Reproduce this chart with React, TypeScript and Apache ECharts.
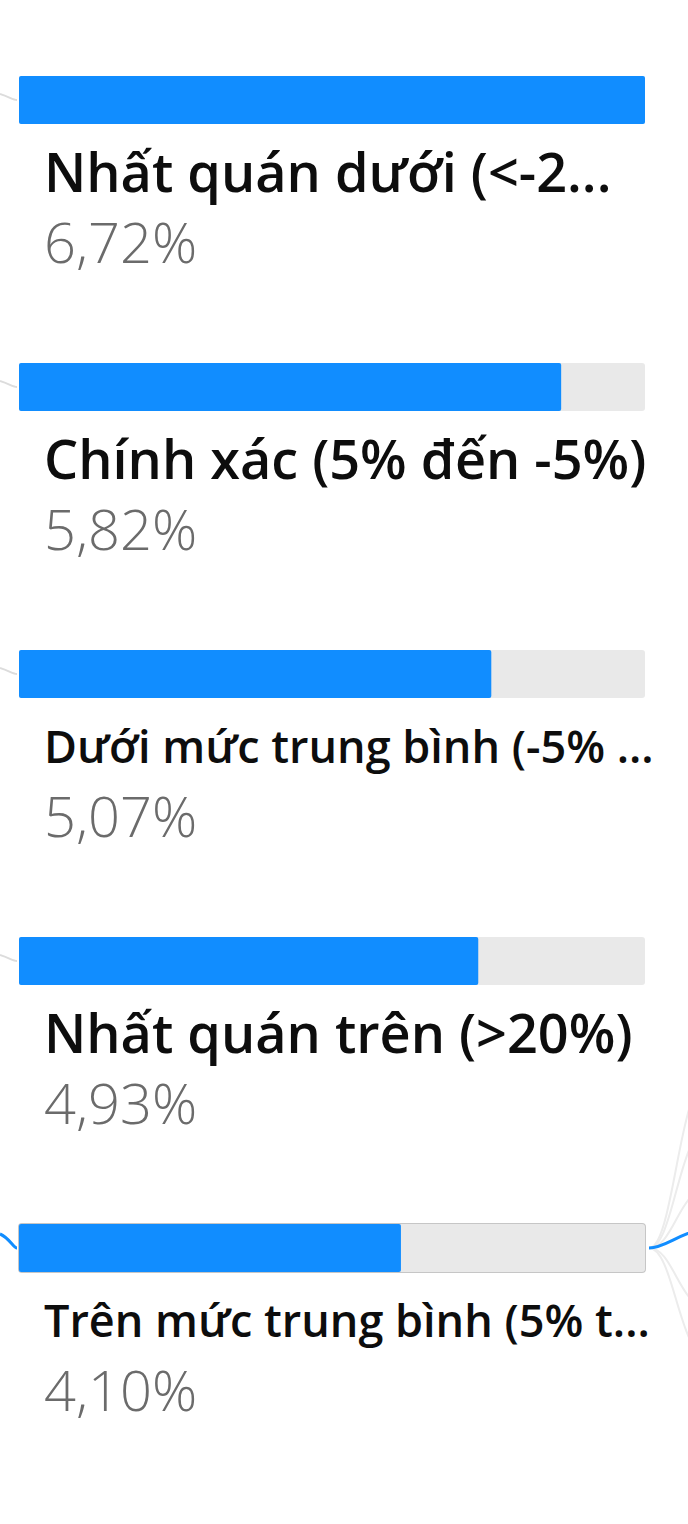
import { useEffect, useRef } from 'react';
import * as echarts from 'echarts';

// các nhánh của cây phân tích (đã cắt chữ như trong ảnh gốc)
const categories = [
  'Nhất quán dưới (<-2...',
  'Chính xác (5% đến -5%)',
  'Dưới mức trung bình (-5% ...',
  'Nhất quán trên (>20%)',
  'Trên mức trung bình (5% t...',
];
const values = [6.72, 5.82, 5.07, 4.93, 4.1];
const valueLabels = ['6,72%', '5,82%', '5,07%', '4,93%', '4,10%'];
const selectedIndex = 4;

const BAR_H = 48;
const FONT = '"Open Sans", "Noto Sans", sans-serif';

const App: React.FC = () => {
  const chartRef = useRef<HTMLDivElement>(null);

  useEffect(() => {
    if (!chartRef.current) return;
    const chart = echarts.init(chartRef.current, null, { renderer: 'svg' });
    const maxVal = Math.max(...values);

    const option = {
      animation: false,
      backgroundColor: '#ffffff',
      grid: { left: 19, right: 43, top: 100, bottom: 276 },
      xAxis: { type: 'value' as const, min: 0, max: maxVal, show: false },
      yAxis: {
        type: 'category' as const,
        data: categories,
        inverse: true,
        boundaryGap: false,
        show: false,
      },
      series: [
        {
          // đường nối từ nút cha (bên trái) và nhánh con (bên phải)
          type: 'custom' as const,
          silent: true,
          z: 1,
          renderItem: (_params: any, api: any) => {
            const row = api.value(1);
            const start = api.coord([0, row]);
            const end = api.coord([maxVal, row]);
            const sel = row === selectedIndex;
            const children: any[] = [
              {
                type: 'bezierCurve',
                shape: {
                  x1: 0, y1: start[1] - (sel ? 14 : 6),
                  x2: start[0] - 2, y2: start[1],
                  cpx1: start[0] * 0.5, cpy1: start[1] - (sel ? 10 : 3),
                  cpx2: start[0] * 0.7, cpy2: start[1],
                },
                style: { stroke: sel ? '#118DFF' : '#dcdcdc', lineWidth: sel ? 3 : 2, fill: 'none' },
              },
            ];
            if (sel) {
              children.push({
                type: 'rect',
                shape: { x: start[0], y: start[1] - BAR_H / 2, width: end[0] - start[0], height: BAR_H, r: 3 },
                style: { fill: 'none', stroke: '#c6c6c6', lineWidth: 2 },
              });
              const x0 = end[0] + 4;
              const y0 = start[1];
              const fans = [-170, -120, -60, 60, 110];
              fans.forEach((dy) => {
                children.push({
                  type: 'bezierCurve',
                  shape: {
                    x1: x0, y1: y0, x2: x0 + 60, y2: y0 + dy,
                    cpx1: x0 + 25, cpy1: y0, cpx2: x0 + 30, cpy2: y0 + dy,
                  },
                  style: { stroke: '#ececec', lineWidth: 2, fill: 'none' },
                });
              });
              children.push({
                type: 'bezierCurve',
                shape: {
                  x1: x0, y1: y0, x2: x0 + 50, y2: y0 - 18,
                  cpx1: x0 + 15, cpy1: y0, cpx2: x0 + 30, cpy2: y0 - 14,
                },
                style: { stroke: '#118DFF', lineWidth: 3, fill: 'none' },
              });
            }
            return { type: 'group', children };
          },
          data: categories.map((_c, i) => [0, i]),
        },
        {
          type: 'bar' as const,
          barWidth: BAR_H,
          z: 2,
          showBackground: true,
          backgroundStyle: { color: '#e9e9e9', borderRadius: 3 },
          itemStyle: { color: '#118DFF', borderRadius: 2 },
          data: values.map((v) => ({ value: v })),
          label: {
            show: true,
            position: [25, 60],
            align: 'left',
            verticalAlign: 'top',
            formatter: (p: any) => {
              const small = p.name.length > 24;
              return `{${small ? 'ns' : 'n'}|${p.name}}\n{v|${valueLabels[p.dataIndex]}}`;
            },
            rich: {
              n: { fontFamily: FONT, fontSize: 54, fontWeight: 600, color: '#0d0d0d', lineHeight: 70 },
              ns: { fontFamily: FONT, fontSize: 45, fontWeight: 600, color: '#0d0d0d', lineHeight: 70 },
              v: { fontFamily: FONT, fontSize: 56, fontWeight: 300, color: '#6b6b6b', lineHeight: 70 },
            },
          },
        },
      ],
    };

    chart.setOption(option);
    return () => {
      chart.dispose();
    };
  }, []);

  return (
    <div
      ref={chartRef}
      style={{ position: 'fixed', left: 0, top: 0, width: 688, height: 1524, background: '#fff' }}
    />
  );
};

export default App;
